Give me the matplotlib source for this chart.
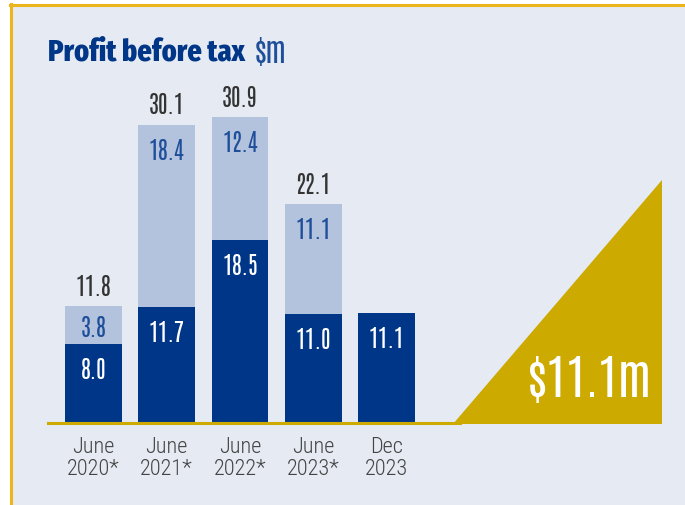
import matplotlib
matplotlib.use("Agg")
import matplotlib.pyplot as plt
from matplotlib.patches import Rectangle, Polygon
from matplotlib.lines import Line2D

categories = ["June\n2020*", "June\n2021*", "June\n2022*", "June\n2023*", "Dec\n2023"]
dark_vals = [8.0, 11.7, 18.5, 11.0, 11.1]
light_vals = [3.8, 18.4, 12.4, 11.1, 0.0]
totals = [11.8, 30.1, 30.9, 22.1, None]
highlight = "$11.1m"

NUMF = ["Antonio", "DejaVu Sans"]
CATF = ["Roboto Condensed", "DejaVu Sans"]
TITF = ["Fira Sans Extra Condensed", "DejaVu Sans"]
plt.rcParams["font.family"] = CATF

NAVY = "#003687"
LIGHT = "#B3C3DD"
GOLD = "#CDAA00"
BORDER = "#EDB51C"
BG = "#E5EAF3"

W, H = 685, 506
fig = plt.figure(figsize=(W / 100, H / 100), dpi=100)
fig.patch.set_facecolor("white")

def fx(px):
    return px / W

def fy(py):
    return 1 - py / H

# panel background and border
fig.add_artist(Rectangle((fx(10), 0), 1 - fx(10), fy(5), transform=fig.transFigure,
                         facecolor=BG, edgecolor="none", zorder=0))
fig.add_artist(Line2D([fx(10), 1], [fy(5.5), fy(5.5)], transform=fig.transFigure,
                      color=BORDER, lw=2.2, zorder=1))
fig.add_artist(Line2D([fx(11), fx(11)], [0, fy(5)], transform=fig.transFigure,
                      color=BORDER, lw=2.2, zorder=1))

# axes
ax = fig.add_axes([fx(48), fy(424), fx(455) - fx(48), fy(77) - fy(424)])
ax.set_facecolor("none")
ax.set_xlim(-0.621, 4.935)
ax.set_ylim(0, 35)
for s in ax.spines.values():
    s.set_visible(False)
ax.set_yticks([])
ax.set_xticks([])

x = list(range(len(categories)))
width = 0.778
ax.bar(x, dark_vals, width=width, color=NAVY, zorder=2)
ax.bar(x, light_vals, width=width, bottom=dark_vals, color=LIGHT, zorder=2)

NS = 17
for i in x:
    d = dark_vals[i]
    l = light_vals[i]
    ax.annotate(f"{d:.1f}", (i, d), xytext=(0, -18), textcoords="offset points",
                ha="center", va="center", color="white", fontsize=NS, family=NUMF,
                fontweight="light", zorder=3)
    if l > 0:
        seg_px = l * (347 / 35)
        off = min(25, seg_px / 2 + 2) / (100 / 72)
        ax.annotate(f"{l:.1f}", (i, d + l), xytext=(0, -off), textcoords="offset points",
                    ha="center", va="center", color="#1F4E9A", fontsize=NS, family=NUMF,
                    fontweight="light", zorder=3)
    if totals[i] is not None:
        ax.annotate(f"{totals[i]:.1f}", (i, d + l), xytext=(0, 14.5), textcoords="offset points",
                    ha="center", va="center", color="#333333", fontsize=NS, family=NUMF,
                    fontweight="light", zorder=3)
    ax.text(i, -1.35, categories[i], ha="center", va="top", color="#444444",
            fontsize=16, linespacing=1.05, family=CATF, fontweight="light")

# baseline and triangle
fig.add_artist(Line2D([fx(48), fx(460)], [fy(424), fy(424)], transform=fig.transFigure,
                      color=GOLD, lw=2.2, zorder=3))
fig.add_artist(Polygon([[fx(453), fy(424.5)], [fx(662), fy(424.5)], [fx(662), fy(181)]],
                       closed=True, transform=fig.transFigure, facecolor=GOLD,
                       edgecolor="none", zorder=2))
fig.text(fx(590), fy(380), highlight, ha="center", va="center", color="white",
         fontsize=34, family=NUMF, zorder=4)

# title
t = fig.text(fx(48), fy(52), "Profit before tax", ha="left", va="center",
             color=NAVY, fontsize=22, fontweight=800, family=TITF)
fig.canvas.draw()
bb = t.get_window_extent()
fig.text(bb.x1 / W + fx(10), fy(52), "$m", ha="left", va="center",
         color="#1F4E9A", fontsize=21, family=NUMF, fontweight="light")

fig.savefig("out.png", dpi=100, facecolor=fig.get_facecolor())
